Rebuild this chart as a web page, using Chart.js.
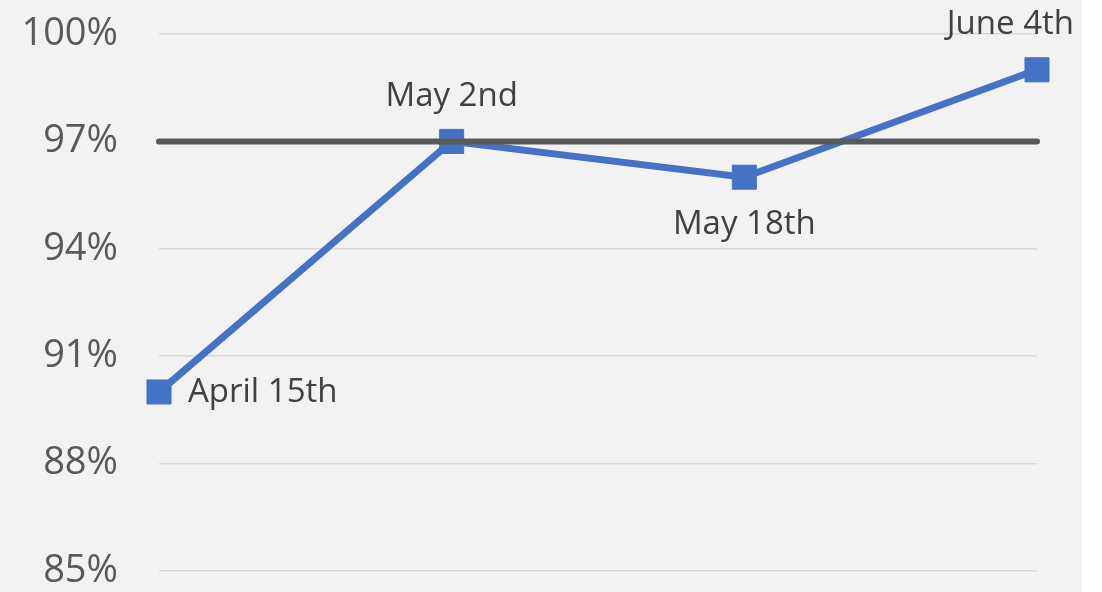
<!DOCTYPE html>
<html>
<head>
<meta charset="utf-8">
<script src="https://cdn.jsdelivr.net/npm/chart.js@4.4.1/dist/chart.umd.min.js"></script>
<style>
  html, body { margin: 0; padding: 0; background: #ffffff; }
  canvas { display: block; }
</style>
</head>
<body>
<canvas id="lineChart" width="1102" height="592"></canvas>
<script>
// data
const dates = ['April 15th', 'May 2nd', 'May 18th', 'June 4th'];
const scores = [90, 97, 96, 99];
const target = [97, 97, 97, 97];
const yTickValues = [85, 88, 91, 94, 97, 100];

// where each point label goes relative to its marker
const labelSpots = ['right', 'above', 'below', 'above'];

const panelBg = {
    id: 'panelBg',
    beforeDraw(chart) {
        const ctx = chart.ctx;
        ctx.save();
        ctx.fillStyle = '#ffffff';
        ctx.fillRect(0, 0, chart.width, chart.height);
        ctx.fillStyle = '#f2f2f2';
        ctx.fillRect(0, 0, 1082, chart.height);
        ctx.restore();
    }
};

const pointLabels = {
    id: 'pointLabels',
    afterDatasetsDraw(chart) {
        const ctx = chart.ctx;
        const meta = chart.getDatasetMeta(1);
        ctx.save();
        ctx.font = '33px "Open Sans"';
        ctx.fillStyle = '#404040';
        ctx.textBaseline = 'middle';
        meta.data.forEach((pt, i) => {
            const spot = labelSpots[i];
            let x = pt.x, y = pt.y;
            if (spot === 'right') {
                ctx.textAlign = 'left';
                x += 29;
                y += 1;
            } else {
                ctx.textAlign = 'center';
                y += spot === 'above' ? -45 : 47;
                const w = ctx.measureText(dates[i]).width;
                // keep the label inside the panel
                if (x + w / 2 > 1074) x = 1074 - w / 2;
            }
            ctx.fillText(dates[i], x, y);
        });
        ctx.restore();
    }
};

new Chart(document.getElementById('lineChart').getContext('2d'), {
    type: 'line',
    data: {
        labels: dates,
        datasets: [{
            label: 'Target',
            data: target,
            borderColor: '#58595b',
            borderWidth: 6,
            borderCapStyle: 'round',
            pointRadius: 0,
            fill: false
        }, {
            label: 'Score',
            data: scores,
            borderColor: '#4472c4',
            backgroundColor: '#4472c4',
            borderWidth: 7,
            pointStyle: 'rect',
            pointRadius: 17,
            pointBorderWidth: 1,
            pointBorderColor: '#4472c4',
            pointBackgroundColor: '#4472c4',
            tension: 0,
            fill: false
        }]
    },
    options: {
        responsive: false,
        animation: false,
        clip: false,
        layout: { padding: { top: 34, bottom: 21, right: 65, left: 0 } },
        plugins: {
            legend: { display: false },
            tooltip: { enabled: false }
        },
        scales: {
            x: {
                display: false,
                offset: false
            },
            y: {
                min: 85,
                max: 100,
                afterBuildTicks(scale) {
                    scale.ticks = yTickValues.map(v => ({ value: v }));
                },
                afterFit(scale) {
                    scale.width = 159;
                    scale.paddingTop = 0;
                    scale.paddingBottom = 0;
                },
                border: { display: false },
                grid: {
                    color: '#d9d9d9',
                    lineWidth: 1.5,
                    drawTicks: false
                },
                ticks: {
                    padding: 41,
                    color: '#595959',
                    font: { family: 'Open Sans', size: 38 },
                    callback: v => v + '%'
                }
            }
        }
    },
    plugins: [panelBg, pointLabels]
});
</script>
</body>
</html>
